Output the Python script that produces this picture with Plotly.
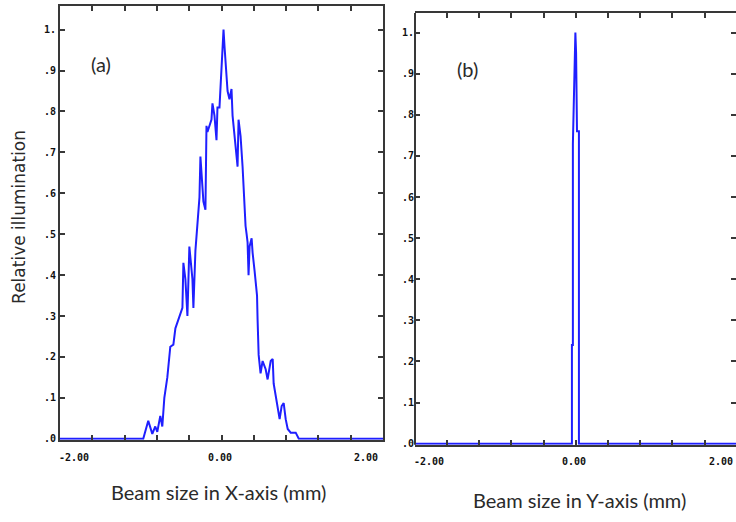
import plotly.graph_objects as go

# ---- data ----
# Panel (a): relative illumination vs. position along X (mm)
x_a = [-2.0, -0.969, -0.907, -0.857, -0.820, -0.795, -0.758, -0.733, -0.708, -0.671,
       -0.634, -0.596, -0.571, -0.547, -0.509, -0.484, -0.472, -0.447, -0.422, -0.398,
       -0.360, -0.348, -0.323, -0.298, -0.273, -0.261, -0.248, -0.224, -0.199, -0.186,
       -0.174, -0.149, -0.124, -0.112, -0.087, -0.062, -0.050, -0.025, 0.000, 0.025,
       0.037, 0.062, 0.075, 0.099, 0.124, 0.137, 0.161, 0.186, 0.199, 0.211,
       0.236, 0.261, 0.273, 0.286, 0.298, 0.311, 0.323, 0.335, 0.348, 0.373,
       0.385, 0.410, 0.440, 0.447, 0.460, 0.484, 0.509, 0.547, 0.571, 0.609,
       0.634, 0.646, 0.671, 0.696, 0.720, 0.745, 0.770, 0.795, 0.820, 0.857,
       0.919, 0.957, 2.0]
y_a = [0.0, 0.0, 0.044, 0.012, 0.030, 0.017, 0.056, 0.030, 0.100, 0.150,
       0.225, 0.230, 0.270, 0.285, 0.310, 0.320, 0.430, 0.390, 0.300, 0.470,
       0.390, 0.320, 0.460, 0.520, 0.590, 0.690, 0.640, 0.580, 0.560, 0.765,
       0.750, 0.765, 0.780, 0.820, 0.790, 0.730, 0.810, 0.810, 0.900, 1.000,
       0.960, 0.900, 0.850, 0.830, 0.855, 0.790, 0.740, 0.700, 0.665, 0.780,
       0.740, 0.665, 0.610, 0.590, 0.520, 0.500, 0.480, 0.400, 0.470, 0.490,
       0.455, 0.410, 0.350, 0.290, 0.205, 0.160, 0.190, 0.170, 0.145, 0.190,
       0.195, 0.135, 0.104, 0.080, 0.048, 0.080, 0.087, 0.048, 0.024, 0.015,
       0.015, 0.0, 0.0]

# Panel (b): relative illumination vs. position along Y (mm)
x_b = [-2.0, -0.047, -0.047, -0.035, -0.035, -0.012, -0.004, 0.005, 0.016, 0.040, 0.040, 2.0]
y_b = [0.0, 0.0, 0.24, 0.24, 0.73, 0.98, 1.00, 0.95, 0.76, 0.76, 0.0, 0.0]

x_tickvals = [-2.0, -1.6, -1.2, -0.8, -0.4, 0.0, 0.4, 0.8, 1.2, 1.6, 2.0]
x_labels = ["-2.00", "0.00", "2.00"]
y_tickvals = [0.0, 0.1, 0.2, 0.3, 0.4, 0.5, 0.6, 0.7, 0.8, 0.9, 1.0]
y_ticktext = [".0", ".1", ".2", ".3", ".4", ".5", ".6", ".7", ".8", ".9", "1."]

W, H = 736, 522
BLUE = "#1f1fff"
FRAME = "#383838"
TICKFONT = dict(family="DejaVu Sans Mono", size=10, color="#111", weight="bold")
TITLEFONT = dict(family="Lato", size=20, color="#2a2a2a")

def px_x(p):
    return p / W

def px_y(p):
    return (H - p) / H

fig = go.Figure()
fig.add_trace(go.Scatter(x=x_a, y=y_a, mode="lines", line=dict(color=BLUE, width=2),
                         xaxis="x", yaxis="y", cliponaxis=False, showlegend=False))
fig.add_trace(go.Scatter(x=x_b, y=y_b, mode="lines", line=dict(color=BLUE, width=2),
                         xaxis="x2", yaxis="y2", cliponaxis=False, showlegend=False))

common_x = dict(tickvals=x_tickvals, ticktext=[""] * len(x_tickvals), ticks="inside", ticklen=5,
                tickwidth=1.5, tickcolor=FRAME, showgrid=False, zeroline=False,
                showline=True, linecolor=FRAME, linewidth=2, mirror="ticks", fixedrange=True)
common_y = dict(tickvals=y_tickvals, ticktext=y_ticktext, ticks="inside", ticklen=5,
                tickwidth=1.5, tickcolor=FRAME, showgrid=False, zeroline=False,
                tickfont=TICKFONT, fixedrange=True)

X2_RANGE = [-1.996, 1.991]
fig.update_layout(
    width=W, height=H, margin=dict(l=0, r=0, t=0, b=0),
    paper_bgcolor="white", plot_bgcolor="white",
    xaxis=dict(domain=[px_x(60), px_x(383)], range=[-2, 2], anchor="y", **common_x),
    yaxis=dict(domain=[px_y(444), px_y(6)], range=[-0.0024, 1.058], anchor="x",
               showline=True, linecolor=FRAME, linewidth=2, mirror="ticks", **common_y),
    xaxis2=dict(domain=[px_x(415), 1.0], range=X2_RANGE, anchor="y2", **common_x),
    yaxis2=dict(domain=[px_y(449), px_y(13)], range=[-0.0024, 1.048], anchor="x2",
                showline=False, mirror="ticks", **common_y),
    shapes=[dict(type="line", xref="x2 domain", yref="y2 domain", x0=0, x1=0, y0=0, y1=1,
                 line=dict(color=FRAME, width=2))],
)

ann = []
# x tick labels: end labels aligned inside the frame, centre label centred on its tick
for ax_name, ay, lo, hi, rshift in (("x", px_y(462), -2.0, 2.0, -3), ("x2", px_y(466), X2_RANGE[0], X2_RANGE[1], -1)):
    for v, t, anchor, shift in ((lo, x_labels[0], "left", -3), (0.0, x_labels[1], "center", -2),
                                (hi, x_labels[2], "right", rshift)):
        ann.append(dict(x=v, xref=ax_name, y=ay, yref="paper", text=t, showarrow=False,
                        xanchor=anchor, yanchor="middle", xshift=shift, font=TICKFONT))

ann += [
    dict(x=px_x(218), y=px_y(497), xref="paper", yref="paper", text="Beam size in X-axis (mm)",
         showarrow=False, xanchor="center", yanchor="middle", font=TITLEFONT),
    dict(x=px_x(579), y=px_y(505), xref="paper", yref="paper", text="Beam size in Y-axis (mm)",
         showarrow=False, xanchor="center", yanchor="middle", font=TITLEFONT),
    dict(x=px_x(19), y=px_y(219), xref="paper", yref="paper", text="Relative illumination",
         showarrow=False, textangle=-90, xanchor="center", yanchor="middle",
         font=dict(family="DejaVu Sans", size=17, color="#2a2a2a")),
    dict(x=px_x(101), y=px_y(65), xref="paper", yref="paper", text="(a)",
         showarrow=False, xanchor="center", yanchor="middle", font=TITLEFONT),
    dict(x=px_x(467), y=px_y(70), xref="paper", yref="paper", text="(b)",
         showarrow=False, xanchor="center", yanchor="middle", font=TITLEFONT),
]
fig.update_layout(annotations=ann)

fig.write_html("out.html")
